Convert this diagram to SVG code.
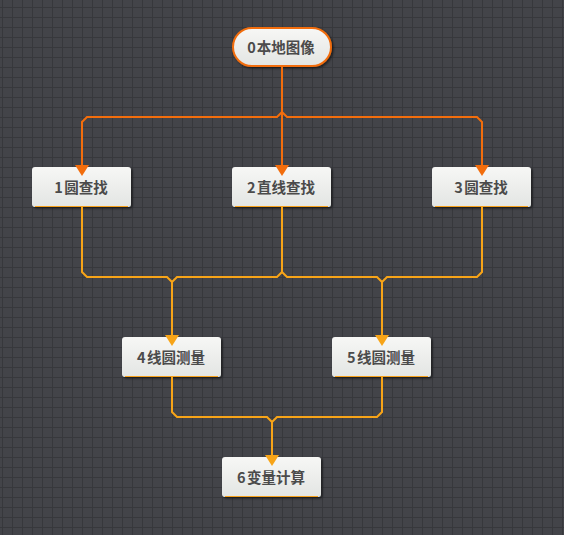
<svg xmlns="http://www.w3.org/2000/svg" width="564" height="535" viewBox="0 0 564 535">
  <defs>
    <pattern id="grid" x="2" y="7" width="10" height="10" patternUnits="userSpaceOnUse">
      <rect width="10" height="10" fill="#434449"/>
      <path d="M0.5 0V10M0 0.5H10" stroke="#37383c" stroke-width="1"/>
    </pattern>
    <linearGradient id="nodeFill" x1="0" y1="0" x2="0" y2="1">
      <stop offset="0" stop-color="#f7f7f5"/>
      <stop offset="1" stop-color="#e3e5e3"/>
    </linearGradient>
    <filter id="shadow" x="-10%" y="-20%" width="130%" height="160%">
      <feDropShadow dx="1.5" dy="1.5" stdDeviation="1.2" flood-color="#000" flood-opacity="0.55"/>
    </filter>
  </defs>
  <style>
    .node rect { fill: url(#nodeFill); filter: url(#shadow); }
    .node .bar { fill: #f5a01a; filter: none; }
    .node text { font-family: "Noto Sans CJK SC", "Noto Sans", sans-serif; font-size: 14.5px; font-weight: bold; fill: #4b4b4b; text-anchor: middle; }
    .e1 { fill: none; stroke: #f26d0c; stroke-width: 2; }
    .e2 { fill: none; stroke: #f7a418; stroke-width: 2; }
    .a1 { fill: #f26d0c; }
    .a2 { fill: #f7a418; }
  </style>
  <rect width="564" height="535" fill="url(#grid)"/>

  <g id="node0" class="node">
    <rect x="233" y="28" width="98" height="38" rx="19" ry="19" stroke="#f26d0c" stroke-width="2"/>
    <text x="281" y="53">0<tspan dx="1">本地图像</tspan></text>
  </g>
  <g id="node1" class="node">
    <rect x="32" y="167" width="99" height="40" rx="3"/>
    <rect class="bar" x="35" y="206" width="93" height="1"/>
    <text x="81" y="193">1<tspan dx="1.5">圆查找</tspan></text>
  </g>
  <g id="node2" class="node">
    <rect x="232" y="167" width="99" height="40" rx="3"/>
    <rect class="bar" x="235" y="206" width="93" height="1"/>
    <text x="281" y="193">2<tspan dx="1.5">直线查找</tspan></text>
  </g>
  <g id="node3" class="node">
    <rect x="432" y="167" width="99" height="40" rx="3"/>
    <rect class="bar" x="435" y="206" width="93" height="1"/>
    <text x="481" y="193">3<tspan dx="1.5">圆查找</tspan></text>
  </g>
  <g id="node4" class="node">
    <rect x="122" y="337" width="99" height="40" rx="3"/>
    <rect class="bar" x="125" y="376" width="93" height="1"/>
    <text x="171" y="363">4<tspan dx="1.5">线圆测量</tspan></text>
  </g>
  <g id="node5" class="node">
    <rect x="332" y="337" width="99" height="40" rx="3"/>
    <rect class="bar" x="335" y="376" width="93" height="1"/>
    <text x="381" y="363">5<tspan dx="1.5">线圆测量</tspan></text>
  </g>
  <g id="node6" class="node">
    <rect x="222" y="457" width="99" height="40" rx="3"/>
    <rect class="bar" x="225" y="496" width="93" height="1"/>
    <text x="271" y="483">6<tspan dx="1.5">变量计算</tspan></text>
  </g>

  <g id="connectors">
    <path class="e1" d="M282 67V112L277 117H87L82 122V166"/>
    <path class="e1" d="M282 67V166"/>
    <path class="e1" d="M282 67V112L287 117H477L482 122V166"/>
    <polygon class="a1" points="75,165 89,165 82,176"/>
    <polygon class="a1" points="275,165 289,165 282,176"/>
    <polygon class="a1" points="475,165 489,165 482,176"/>

    <path class="e2" d="M82 207V272L87 277H167L172 282V336"/>
    <path class="e2" d="M282 207V272L277 277H177L172 282V336"/>
    <path class="e2" d="M282 207V272L287 277H377L382 282V336"/>
    <path class="e2" d="M482 207V272L477 277H387L382 282V336"/>
    <polygon class="a2" points="165,335 179,335 172,346"/>
    <polygon class="a2" points="375,335 389,335 382,346"/>

    <path class="e2" d="M172 377V412L177 417H267L272 422V456"/>
    <path class="e2" d="M382 377V412L377 417H277L272 422V456"/>
    <polygon class="a2" points="265,455 279,455 272,466"/>
  </g>
</svg>
